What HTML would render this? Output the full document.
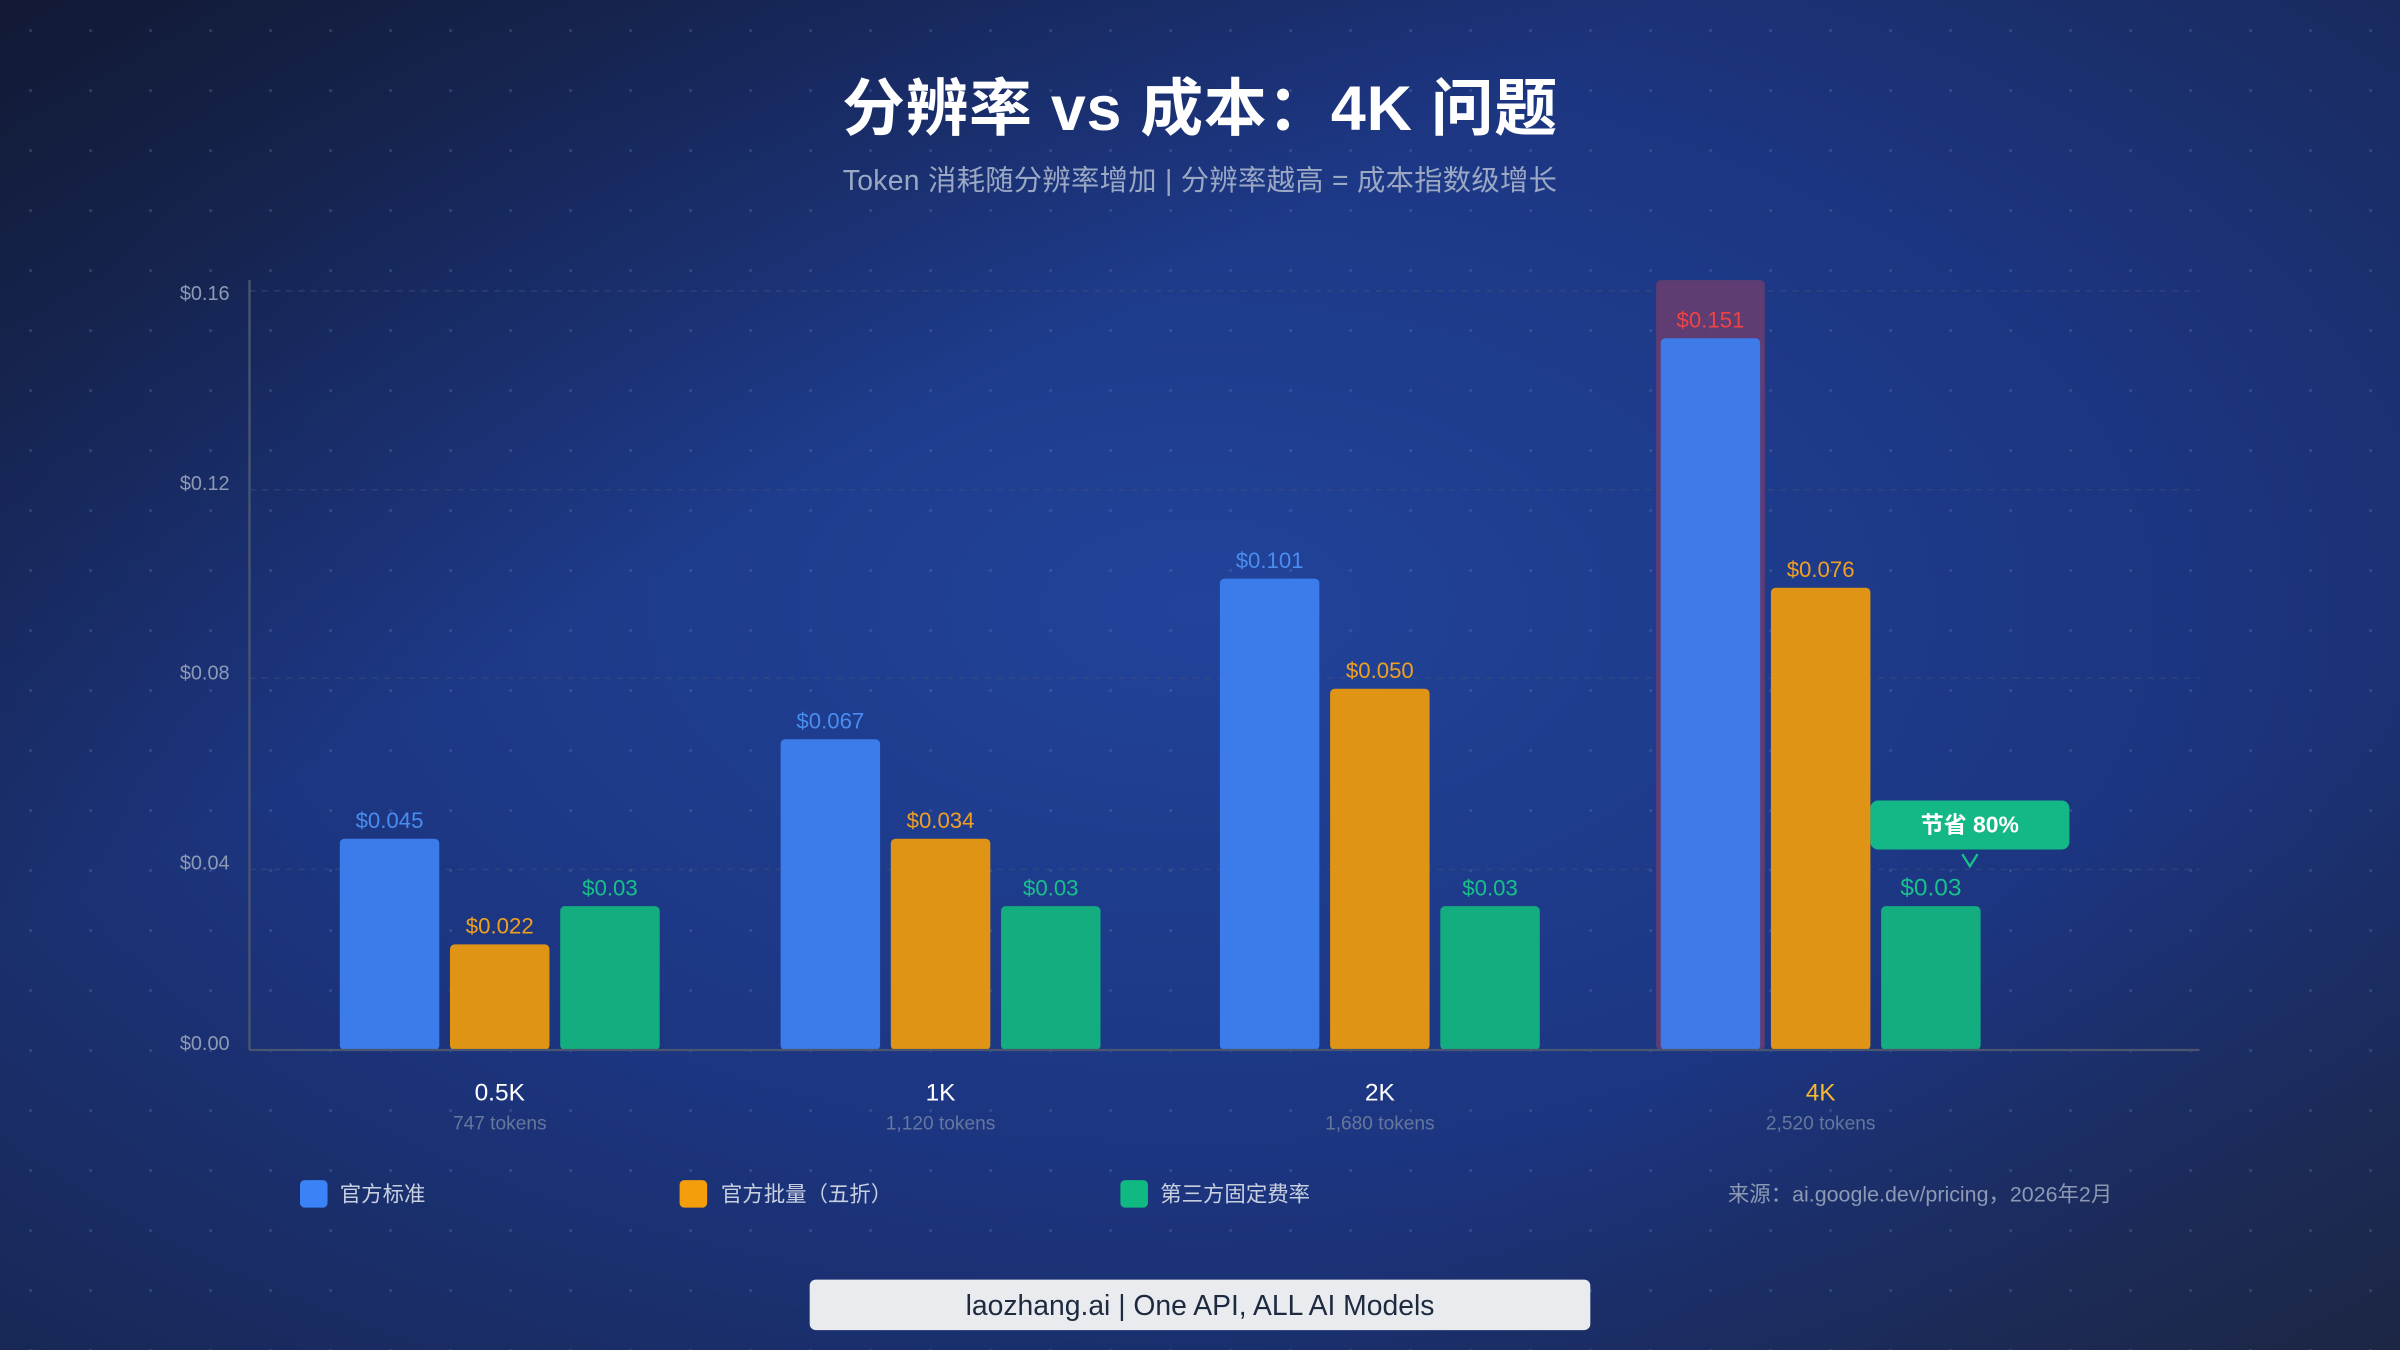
<!DOCTYPE html>
<html><head><meta charset="utf-8"><style>
html,body{margin:0;padding:0;width:2400px;height:1350px;overflow:hidden;background:#1a2b66}
svg{display:block}
text{font-family:"Liberation Sans","Noto Sans CJK SC",sans-serif}
</style></head><body>
<svg width="2400" height="1350" viewBox="0 0 1568 882" xmlns="http://www.w3.org/2000/svg">
<defs>
<radialGradient id="bg" cx="0.5" cy="0.45" r="0.75">
<stop offset="0" stop-color="#21439a"/>
<stop offset="0.55" stop-color="#1c3580"/>
<stop offset="1" stop-color="#182754"/>
</radialGradient>
<linearGradient id="tl" x1="0" y1="0" x2="1" y2="1">
<stop offset="0" stop-color="#111830" stop-opacity="0.9"/>
<stop offset="0.35" stop-color="#111830" stop-opacity="0"/>
<stop offset="0.75" stop-color="#1c2a55" stop-opacity="0"/>
<stop offset="1" stop-color="#1e2640" stop-opacity="0.8"/>
</linearGradient>
<pattern id="dots" width="39.2" height="39.2" patternUnits="userSpaceOnUse" x="10" y="10">
<circle cx="10" cy="10" r="1" fill="#5a72b0" opacity="0.4"/>
</pattern>
</defs>
<rect width="1568" height="882" fill="url(#bg)"/>
<rect width="1568" height="882" fill="url(#tl)"/>
<rect width="1568" height="882" fill="url(#dots)"/>

<text x="784" y="85" text-anchor="middle" font-size="41" font-weight="bold" fill="#fff" letter-spacing="0.5">分辨率 vs 成本：4K 问题</text>
<text x="784" y="124" text-anchor="middle" font-size="18.5" fill="#9aa8c4" letter-spacing="0.2">Token 消耗随分辨率增加 | 分辨率越高 = 成本指数级增长</text>

<g stroke="#3e5078" stroke-dasharray="4 4" stroke-width="1" opacity="0.5">
<line x1="163" y1="190" x2="1437" y2="190"/>
<line x1="163" y1="320" x2="1437" y2="320"/>
<line x1="163" y1="443" x2="1437" y2="443"/>
<line x1="163" y1="568" x2="1437" y2="568"/>
</g>
<g font-size="13" fill="#8e9ab4" text-anchor="end">
<text x="150" y="196">$0.16</text>
<text x="150" y="320">$0.12</text>
<text x="150" y="444">$0.08</text>
<text x="150" y="568">$0.04</text>
<text x="150" y="686">$0.00</text>
</g>

<rect x="1082" y="183" width="71" height="503" rx="3" fill="#6b3d6e" opacity="0.85"/>

<g>
<rect x="222" y="548" width="65" height="138" rx="3" fill="#3b7bea"/>
<rect x="294" y="617" width="65" height="69" rx="3" fill="#df9416"/>
<rect x="366" y="592" width="65" height="94" rx="3" fill="#13ad80"/>
<rect x="510" y="483" width="65" height="203" rx="3" fill="#3b7bea"/>
<rect x="582" y="548" width="65" height="138" rx="3" fill="#df9416"/>
<rect x="654" y="592" width="65" height="94" rx="3" fill="#13ad80"/>
<rect x="797" y="378" width="65" height="308" rx="3" fill="#3b7bea"/>
<rect x="869" y="450" width="65" height="236" rx="3" fill="#df9416"/>
<rect x="941" y="592" width="65" height="94" rx="3" fill="#13ad80"/>
<rect x="1085" y="221" width="65" height="465" rx="3" fill="#3f7be8"/>
<rect x="1157" y="384" width="65" height="302" rx="3" fill="#df9416"/>
<rect x="1229" y="592" width="65" height="94" rx="3" fill="#13ad80"/>
</g>
<line x1="163" y1="183" x2="163" y2="686" stroke="#4a5670" stroke-width="1.5"/>
<line x1="163" y1="686" x2="1437" y2="686" stroke="#4a5670" stroke-width="1.5"/>

<g font-size="14.5" text-anchor="middle">
<text x="254.5" y="541" fill="#4a8df0">$0.045</text>
<text x="326.5" y="610" fill="#f0a020">$0.022</text>
<text x="398.5" y="585" fill="#18c08a">$0.03</text>
<text x="542.5" y="476" fill="#4a8df0">$0.067</text>
<text x="614.5" y="541" fill="#f0a020">$0.034</text>
<text x="686.5" y="585" fill="#18c08a">$0.03</text>
<text x="829.5" y="371" fill="#4a8df0">$0.101</text>
<text x="901.5" y="443" fill="#f0a020">$0.050</text>
<text x="973.5" y="585" fill="#18c08a">$0.03</text>
<text x="1117.5" y="214" fill="#ef4444">$0.151</text>
<text x="1189.5" y="377" fill="#f0a020">$0.076</text>
<text x="1261.5" y="585" font-size="16" fill="#18c08a">$0.03</text>
</g>

<rect x="1222" y="523" width="130" height="32" rx="5" fill="#14b886"/>
<text x="1287" y="544" text-anchor="middle" font-size="15" font-weight="bold" fill="#fff">节省 80%</text>
<polyline points="1282,558 1287,566 1292,558" fill="none" stroke="#18c08a" stroke-width="1.5"/>

<g text-anchor="middle">
<text x="326.5" y="719" font-size="16" fill="#fff">0.5K</text>
<text x="614.5" y="719" font-size="16" fill="#fff">1K</text>
<text x="901.5" y="719" font-size="16" fill="#fff">2K</text>
<text x="1189.5" y="719" font-size="16" fill="#f5b82e">4K</text>
<text x="326.5" y="738" font-size="12.5" fill="#66779c">747 tokens</text>
<text x="614.5" y="738" font-size="12.5" fill="#66779c">1,120 tokens</text>
<text x="901.5" y="738" font-size="12.5" fill="#66779c">1,680 tokens</text>
<text x="1189.5" y="738" font-size="12.5" fill="#66779c">2,520 tokens</text>
</g>

<rect x="196" y="771" width="18" height="18" rx="3" fill="#3b82f6"/>
<text x="222" y="785" font-size="14" fill="#c8d0e0">官方标准</text>
<rect x="444" y="771" width="18" height="18" rx="3" fill="#f59e0b"/>
<text x="471" y="785" font-size="14" fill="#c8d0e0">官方批量（五折）</text>
<rect x="732" y="771" width="18" height="18" rx="3" fill="#10b981"/>
<text x="758" y="785" font-size="14" fill="#c8d0e0">第三方固定费率</text>
<text x="1380" y="785" text-anchor="end" font-size="14" fill="#8d99b3">来源：ai.google.dev/pricing，2026年2月</text>

<rect x="529" y="836" width="510" height="33" rx="4" fill="#e9ebef"/>
<text x="784" y="859" text-anchor="middle" font-size="18.5" fill="#1e2a40">laozhang.ai | One API, ALL AI Models</text>
</svg>
</body></html>
